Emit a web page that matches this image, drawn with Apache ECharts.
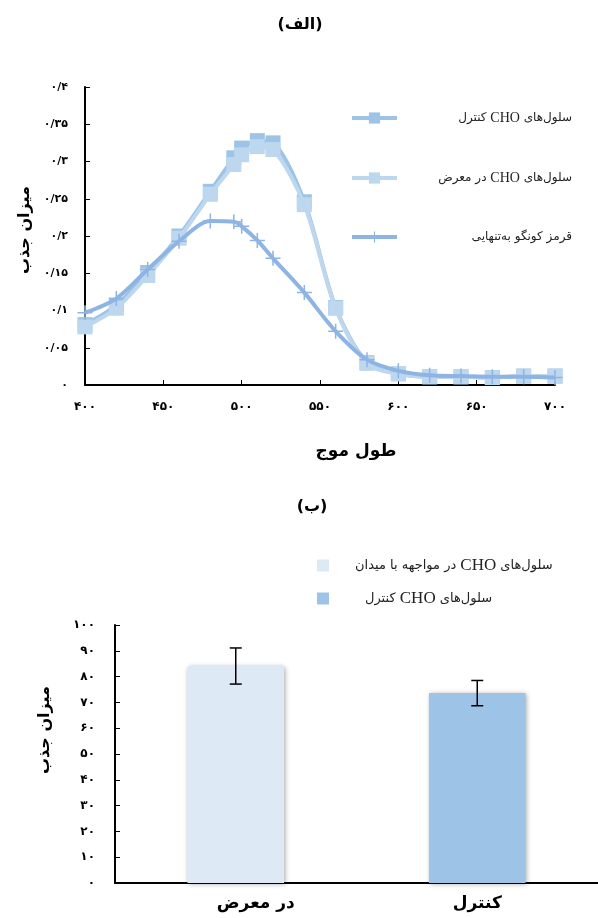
<!DOCTYPE html>
<html>
<head>
<meta charset="utf-8">
<script src="https://cdn.jsdelivr.net/npm/echarts@6/dist/echarts.min.js"></script>
<style>html,body{margin:0;padding:0;background:#fff}#c{width:598px;height:918px}</style>
</head>
<body>
<div id="c"></div>
<script>
// ---- data (top chart: absorbance vs wavelength) ----
const wavelengths = [400,420,440,460,480,495,500,510,520,540,560,580,600,620,640,660,680,700];
const controlAbs  = [0.081,0.107,0.151,0.200,0.260,0.305,0.318,0.328,0.325,0.246,0.104,0.030,0.015,0.011,0.011,0.010,0.012,0.012];
const exposedAbs  = [0.078,0.103,0.147,0.197,0.256,0.296,0.309,0.320,0.316,0.242,0.103,0.029,0.015,0.011,0.011,0.010,0.012,0.012];
const congoAbs    = [0.097,0.116,0.155,0.193,0.220,0.219,0.213,0.194,0.170,0.124,0.072,0.034,0.019,0.013,0.012,0.011,0.011,0.010];
const topNames = ['سلول‌های CHO کنترل', 'سلول‌های CHO در معرض', 'قرمز کونگو به‌تنهایی'];

// ---- data (bottom chart: bars) ----
const barCategories = ['در معرض', 'کنترل'];
const barValues = [84.1, 73.6];
const barErrors = [7.0, 4.9];
const bottomNames = ['سلول‌های CHO در مواجهه با میدان', 'سلول‌های CHO کنترل\u200B'];

const FA = 'DejaVu Sans';
function fa(v){
  const s = String(Math.round(v*100)/100).replace('.', '/');
  return s.replace(/\d/g, d => '۰۱۲۳۴۵۶۷۸۹'[d]);
}
function rtlTokens(name){
  const clean = name.replace(/\u200B/g,'');
  const parts = clean.split(/(CHO)/).map(s=>s.trim()).filter(s=>s.length);
  const out = [];
  parts.reverse().forEach((p,i)=>{
    if(i>0) out.push('{a| }');
    out.push(p==='CHO' ? '{b|CHO}' : '{a|'+p+'}');
  });
  return out.join('');
}
const plus = 'path://M9,0h2v9h9v2h-9v9h-2v-9h-9v-2h9z';
const axisBlack = {lineStyle:{color:'#000', width:2}};

const chart = echarts.init(document.getElementById('c'), null, {renderer:'canvas'});
const option = {
  animation:false,
  backgroundColor:'#fff',
  grid:[
    {left:85, top:87, width:470, height:298},
    {left:115, top:625, right:0, height:258}
  ],
  xAxis:[
    {gridIndex:0, type:'value', min:400, max:700, interval:50,
     axisLine:axisBlack, axisTick:{inside:true, length:5, lineStyle:{color:'#000', width:1}},
     splitLine:{show:false},
     axisLabel:{formatter:fa, color:'#000', fontWeight:'bold', fontSize:12, fontFamily:FA, margin:16}},
    {gridIndex:1, type:'category', data:barCategories,
     axisLine:axisBlack, axisTick:{inside:true, length:6, lineStyle:{color:'#000', width:1}},
     axisLabel:{color:'#000', margin:12,
       formatter:(v,i)=> i===0 ? '{s|'+v+'}' : '{n|'+v+'}',
       rich:{s:{fontSize:17, fontWeight:'bold', fontFamily:FA, color:'#000', padding:[0,0,0,40]},
             n:{fontSize:17, fontWeight:'bold', fontFamily:FA, color:'#000'}}}}
  ],
  yAxis:[
    {gridIndex:0, type:'value', min:0, max:0.4, interval:0.05,
     axisLine:{show:true, ...axisBlack}, axisTick:{show:true, inside:true, length:5, lineStyle:{color:'#000', width:1}},
     splitLine:{show:false},
     axisLabel:{formatter:fa, color:'#000', fontWeight:'bold', fontSize:11, fontFamily:FA, margin:17}},
    {gridIndex:1, type:'value', min:0, max:100, interval:10,
     axisLine:{show:true, ...axisBlack}, axisTick:{show:true, inside:true, length:5, lineStyle:{color:'#000', width:1}},
     splitLine:{show:false},
     axisLabel:{formatter:fa, color:'#000', fontWeight:'bold', fontSize:12, fontFamily:FA, margin:20}}
  ],
  legend:[
    {orient:'vertical', left:350, top:111, padding:0, itemWidth:45, itemHeight:14, itemGap:46,
     data:topNames,
     lineStyle:{width:4},
     formatter:rtlTokens,
     textStyle:{width:170, rich:{
       a:{fontFamily:FA, fontSize:12, color:'#222', align:'right'},
       b:{fontFamily:'Liberation Serif', fontSize:14, color:'#222', align:'right'}}}},
    {orient:'vertical', left:317, top:557, padding:0, itemWidth:12, itemHeight:12, itemGap:16,
     icon:'rect',
     data:[{name:bottomNames[0], textStyle:{padding:[0,0,0,21]}},
           {name:bottomNames[1], textStyle:{padding:[0,0,0,31]}}],
     formatter:rtlTokens,
     textStyle:{rich:{
       a:{fontFamily:FA, fontSize:13, color:'#222'},
       b:{fontFamily:'Liberation Serif', fontSize:17, color:'#222'}}}}
  ],
  series:[
    {name:topNames[0], type:'line', xAxisIndex:0, yAxisIndex:0, smooth:0.3,
     data:wavelengths.map((w,i)=>[w, controlAbs[i]]),
     symbol:'rect', symbolSize:15, lineStyle:{color:'#9dc3e6', width:4},
     itemStyle:{color:'#9dc3e6'}, z:2},
    {name:topNames[1], type:'line', xAxisIndex:0, yAxisIndex:0, smooth:0.3,
     data:wavelengths.map((w,i)=>[w, exposedAbs[i]]),
     symbol:'rect', symbolSize:15, lineStyle:{color:'#bdd7ee', width:4},
     itemStyle:{color:'#bdd7ee'}, z:3},
    {name:topNames[2], type:'line', xAxisIndex:0, yAxisIndex:0, smooth:0.3,
     data:wavelengths.map((w,i)=>[w, congoAbs[i]]),
     symbol:plus, symbolSize:15, lineStyle:{color:'#8eb4e3', width:4},
     itemStyle:{color:'#8eb4e3'}, z:4},
    {name:bottomNames[0], type:'bar', xAxisIndex:1, yAxisIndex:1, stack:'b', barWidth:'40%',
     data:[barValues[0], '-'],
     itemStyle:{color:'#dde9f5', borderRadius:[3,3,0,0], shadowBlur:5, shadowColor:'rgba(0,0,0,0.35)', shadowOffsetX:1, shadowOffsetY:1}},
    {name:bottomNames[1], type:'bar', xAxisIndex:1, yAxisIndex:1, stack:'b', barWidth:'40%',
     data:['-', barValues[1]],
     itemStyle:{color:'#9dc3e6', shadowBlur:5, shadowColor:'rgba(0,0,0,0.35)', shadowOffsetX:1, shadowOffsetY:1}},
    {type:'custom', xAxisIndex:1, yAxisIndex:1, z:10,
     data:barCategories.map((c,i)=>[i, barValues[i]-barErrors[i], barValues[i]+barErrors[i]]),
     encode:{x:0, y:[1,2]},
     renderItem:(params, api)=>{
       const lo = api.coord([api.value(0), api.value(1)]);
       const hi = api.coord([api.value(0), api.value(2)]);
       const w = 6, st = {stroke:'#000', lineWidth:1.5};
       return {type:'group', children:[
         {type:'line', shape:{x1:lo[0], y1:lo[1], x2:hi[0], y2:hi[1]}, style:st},
         {type:'line', shape:{x1:lo[0]-w, y1:lo[1], x2:lo[0]+w, y2:lo[1]}, style:st},
         {type:'line', shape:{x1:hi[0]-w, y1:hi[1], x2:hi[0]+w, y2:hi[1]}, style:st}
       ]};
     }}
  ],
  graphic:[
    {type:'text', x:300, y:25, style:{text:'(الف)', font:'bold 16px "DejaVu Sans"', fill:'#000', align:'center', verticalAlign:'middle'}},
    {type:'text', x:312, y:507, style:{text:'(ب)', font:'bold 16px "DejaVu Sans"', fill:'#000', align:'center', verticalAlign:'middle'}},
    {type:'text', x:25, y:230, rotation:Math.PI/2, style:{text:'میزان جذب', font:'bold 16px "DejaVu Sans"', fill:'#000', align:'center', verticalAlign:'middle'}},
    {type:'text', x:45, y:730, rotation:Math.PI/2, style:{text:'میزان جذب', font:'bold 16px "DejaVu Sans"', fill:'#000', align:'center', verticalAlign:'middle'}},
    {type:'text', x:356, y:452, style:{text:'طول موج', font:'bold 17px "DejaVu Sans"', fill:'#000', align:'center', verticalAlign:'middle'}}
  ]
};
chart.setOption(option);
</script>
</body>
</html>
